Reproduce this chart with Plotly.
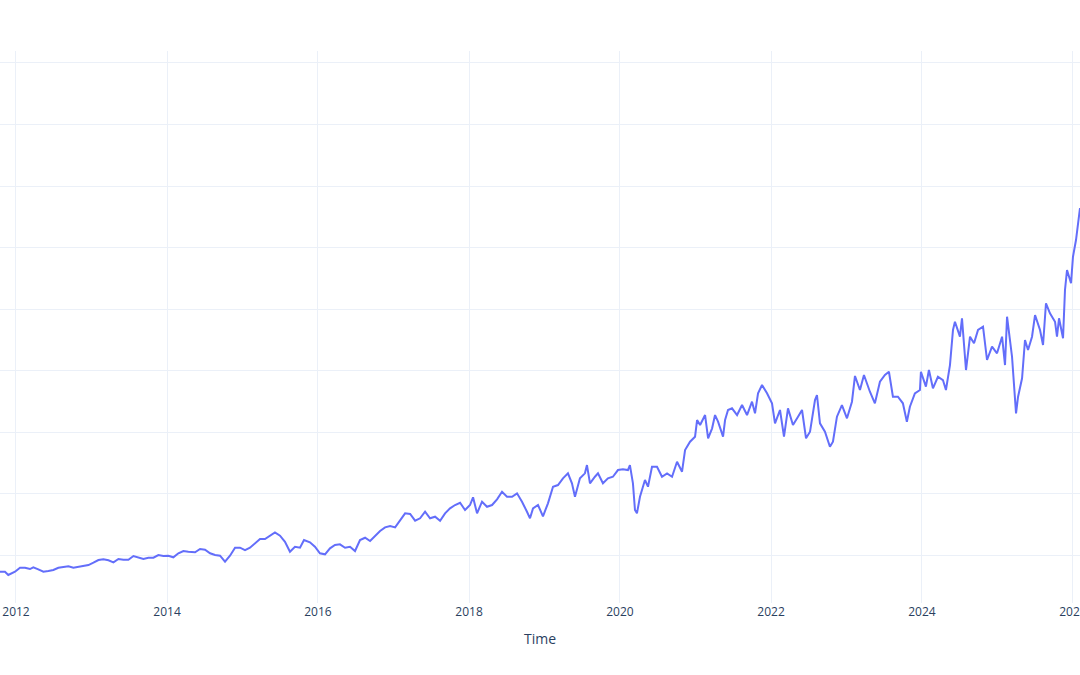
import pandas as pd
import plotly.graph_objects as go

# Time stamps as decimal years
years = [
    2011.788, 2011.854, 2011.898, 2011.943, 2011.987, 2012.053, 2012.119, 2012.185, 2012.229, 2012.295,
    2012.362, 2012.428, 2012.494, 2012.560, 2012.626, 2012.693, 2012.759, 2012.825, 2012.891, 2012.958,
    2013.024, 2013.090, 2013.156, 2013.223, 2013.289, 2013.355, 2013.421, 2013.487, 2013.554, 2013.620,
    2013.686, 2013.752, 2013.819, 2013.885, 2013.951, 2014.017, 2014.083, 2014.150, 2014.216, 2014.282,
    2014.371, 2014.437, 2014.503, 2014.570, 2014.636, 2014.702, 2014.768, 2014.834, 2014.901, 2014.967,
    2015.033, 2015.099, 2015.166, 2015.232, 2015.298, 2015.364, 2015.430, 2015.497, 2015.563, 2015.629,
    2015.695, 2015.762, 2015.815, 2015.894, 2015.960, 2016.026, 2016.093, 2016.159, 2016.225, 2016.291,
    2016.358, 2016.424, 2016.490, 2016.556, 2016.623, 2016.689, 2016.755, 2016.821, 2016.887, 2016.954,
    2017.020, 2017.086, 2017.152, 2017.219, 2017.285, 2017.351, 2017.417, 2017.483, 2017.550, 2017.616,
    2017.682, 2017.748, 2017.815, 2017.881, 2017.947, 2018.013, 2018.053, 2018.106, 2018.172, 2018.238,
    2018.305, 2018.371, 2018.437, 2018.503, 2018.570, 2018.636, 2018.702, 2018.768, 2018.808, 2018.848,
    2018.914, 2018.980, 2019.046, 2019.113, 2019.179, 2019.245, 2019.311, 2019.364, 2019.404, 2019.470,
    2019.536, 2019.563, 2019.603, 2019.669, 2019.709, 2019.775, 2019.841, 2019.907, 2019.974, 2020.040,
    2020.106, 2020.132, 2020.172, 2020.199, 2020.225, 2020.265, 2020.331, 2020.371, 2020.424, 2020.490,
    2020.556, 2020.623, 2020.689, 2020.755, 2020.821, 2020.861, 2020.927, 2020.993, 2021.020, 2021.060,
    2021.126, 2021.166, 2021.219, 2021.258, 2021.298, 2021.364, 2021.391, 2021.430, 2021.483, 2021.550,
    2021.616, 2021.682, 2021.748, 2021.788, 2021.828, 2021.881, 2021.947, 2022.013, 2022.053, 2022.119,
    2022.172, 2022.225, 2022.291, 2022.358, 2022.411, 2022.464, 2022.517, 2022.583, 2022.609, 2022.649,
    2022.715, 2022.781, 2022.821, 2022.874, 2022.940, 2023.007, 2023.073, 2023.113, 2023.179, 2023.232,
    2023.311, 2023.377, 2023.444, 2023.510, 2023.563, 2023.616, 2023.682, 2023.748, 2023.801, 2023.841,
    2023.907, 2023.974, 2023.987, 2024.053, 2024.093, 2024.146, 2024.212, 2024.278, 2024.318, 2024.371,
    2024.411, 2024.437, 2024.503, 2024.530, 2024.583, 2024.636, 2024.689, 2024.742, 2024.808, 2024.861,
    2024.927, 2024.993, 2025.060, 2025.099, 2025.126, 2025.192, 2025.245, 2025.272, 2025.325, 2025.364,
    2025.404, 2025.457, 2025.497, 2025.563, 2025.603, 2025.642, 2025.695, 2025.762, 2025.788, 2025.815,
    2025.868, 2025.894, 2025.921, 2025.974, 2026.000, 2026.040, 2026.066, 2026.093,
]

values = [
    72.8, 72.8, 67.5, 70.7, 72.8, 79.3, 79.3, 77.2, 80.0, 76.7,
    72.8, 74.0, 75.6, 79.3, 81.0, 81.6, 79.3, 80.5, 82.6, 83.7,
    87.5, 91.9, 93.0, 91.4, 88.1, 93.5, 92.4, 92.4, 98.4, 95.6,
    93.5, 95.6, 95.6, 100.0, 98.4, 98.9, 96.3, 102.8, 106.5, 105.4,
    104.4, 109.8, 108.6, 102.8, 100.0, 98.9, 89.1, 98.9, 111.9, 111.9,
    108.1, 111.9, 118.4, 126.0, 126.0, 131.4, 136.9, 131.4, 121.6, 105.4,
    113.5, 111.9, 124.4, 120.7, 113.5, 102.8, 101.1, 110.9, 116.3, 117.4,
    111.9, 113.5, 106.5, 124.4, 128.1, 122.8, 130.9, 139.0, 145.0, 147.2,
    145.0, 156.9, 167.8, 166.7, 155.8, 159.7, 170.4, 159.7, 162.3, 155.8,
    167.8, 175.9, 181.3, 185.0, 173.2, 181.3, 193.8, 167.8, 186.7, 178.5,
    181.3, 190.6, 202.9, 194.8, 194.8, 200.3, 186.7, 170.4, 159.7, 175.9,
    181.3, 163.0, 184.1, 211.1, 213.8, 224.7, 232.8, 216.6, 194.8, 224.7,
    232.8, 246.3, 216.6, 227.3, 232.8, 216.6, 224.7, 227.3, 238.2, 239.3,
    238.2, 246.3, 216.6, 173.2, 167.8, 194.8, 222.0, 211.1, 243.6, 243.6,
    227.3, 232.8, 227.3, 251.7, 235.5, 270.7, 284.2, 292.4, 319.5, 311.4,
    327.6, 289.8, 306.0, 327.6, 316.8, 292.4, 319.5, 335.8, 338.5, 327.6,
    343.9, 327.6, 349.3, 330.4, 362.9, 376.4, 362.9, 346.7, 314.1, 335.8,
    292.4, 338.5, 311.4, 324.9, 335.8, 289.8, 300.5, 352.0, 360.2, 314.1,
    300.5, 276.1, 284.2, 324.9, 343.9, 322.3, 349.3, 391.1, 368.3, 392.7,
    365.5, 346.7, 381.8, 392.7, 398.0, 357.4, 357.4, 346.7, 316.8, 341.1,
    362.9, 368.3, 398.0, 373.7, 400.8, 371.1, 389.9, 384.5, 368.3, 408.9,
    465.9, 479.3, 455.0, 484.9, 400.8, 455.0, 444.2, 465.9, 471.2, 417.1,
    438.7, 428.0, 455.0, 408.9, 487.5, 422.4, 330.4, 357.4, 387.3, 449.6,
    433.3, 455.0, 490.2, 465.9, 441.5, 509.3, 493.0, 479.3, 455.0, 484.9,
    452.4, 530.9, 563.4, 541.8, 585.0, 612.2, 639.3, 664.2,
]


def to_date(y):
    yr = int(y)
    start = pd.Timestamp(year=yr, month=1, day=1)
    end = pd.Timestamp(year=yr + 1, month=1, day=1)
    return start + (end - start) * (y - yr)


dates = [to_date(y) for y in years]

fig = go.Figure()
fig.add_trace(go.Scatter(
    x=dates, y=values, mode="lines",
    line=dict(color="#636efa", width=2),
    showlegend=False,
))

fig.update_layout(
    template="plotly_white",
    width=1080, height=675,
    margin=dict(l=0, r=0, t=51, b=72),
    xaxis=dict(
        title=dict(text="Time"),
        range=[dates[0], dates[-1]],
        dtick="M24", tick0="2012-01-01",
        tickformat="%Y",
        ticklabeloverflow="allow",
        automargin=False,
    ),
    yaxis=dict(
        range=[22, 919.5],
        dtick=100, tick0=0,
        showticklabels=False,
        zeroline=False,
        automargin=False,
    ),
)

fig.write_html("out.html")
